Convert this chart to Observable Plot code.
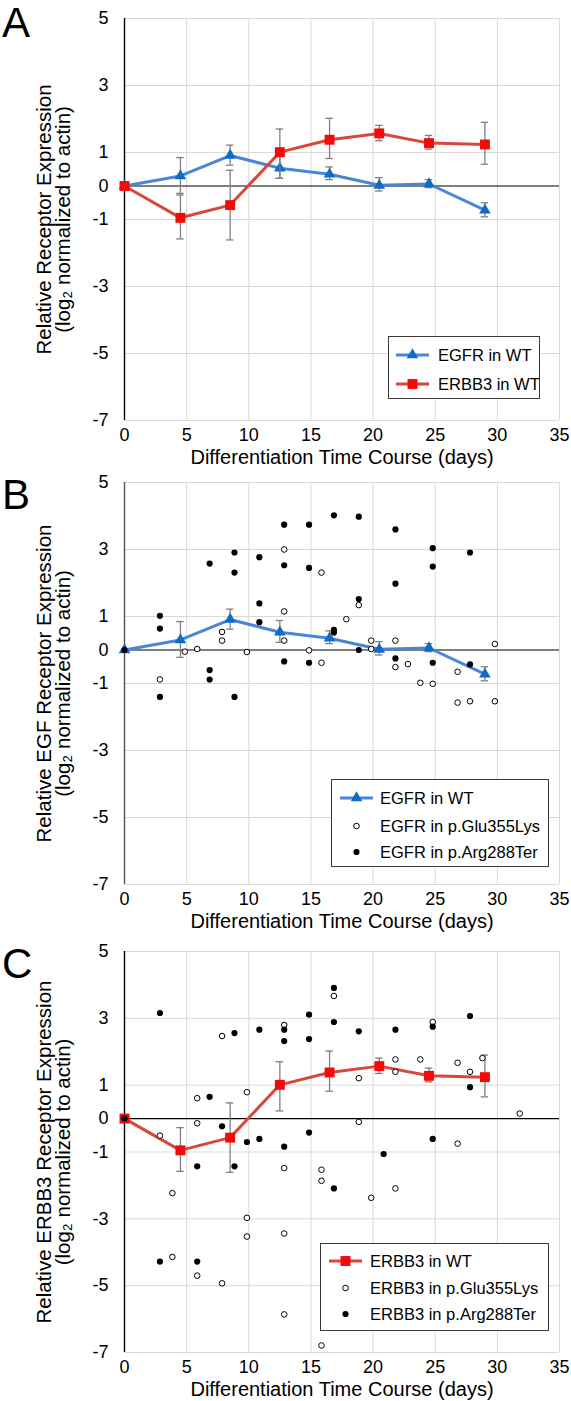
<!DOCTYPE html>
<html><head><meta charset="utf-8">
<script src="https://cdn.jsdelivr.net/npm/d3@7"></script>
<script src="https://cdn.jsdelivr.net/npm/@observablehq/plot@0.6"></script>
<style>
body{margin:0;background:#fff;font-family:"Liberation Sans",Arial,sans-serif;}
#root{position:relative;width:571px;height:1401px;overflow:hidden;background:#fff;}
.panel{position:absolute;left:0;width:571px;}
.legend{position:absolute;background:#fff;border:1px solid #3a3a3a;box-sizing:border-box;font-size:16.5px;color:#000;}
.legend .row{position:absolute;left:0;height:20px;line-height:20px;white-space:nowrap;}
.legend svg{position:absolute;top:3px;overflow:visible;}
.legend span{position:absolute;top:0;}
</style></head>
<body><div id="root"></div>
<script>
// ---------- data ----------
const xTicks = [0, 5, 10, 15, 20, 25, 30, 35];
const yTicks = [5, 3, 1, 0, -1, -3, -5, -7];
const yGrid = [5, 3, 1, -1, -3, -5, -7];
const days = [0, 4.5, 8.5, 12.5, 16.5, 20.5, 24.5, 29];

const egfrWT = [0, 0.30, 0.91, 0.53, 0.35, 0.02, 0.06, -0.72];
const egfrLo = [null, -0.22, 0.62, 0.23, 0.19, -0.15, -0.05, -0.92];
const egfrHi = [null, 0.85, 1.22, 0.88, 0.57, 0.25, 0.19, -0.50];

const erbb3WT = [0, -0.95, -0.57, 1.01, 1.38, 1.57, 1.28, 1.24];
const erbb3Lo = [null, -1.58, -1.61, 0.23, 0.82, 1.35, 1.10, 0.65];
const erbb3Hi = [null, -0.27, 0.47, 1.70, 2.02, 1.81, 1.51, 1.90];

// EGFR patients (panel B) [day, value]
const egfrGlu = [[2.85,-0.88],[4.85,-0.05],[5.85,0.03],[7.85,0.54],[7.85,0.28],[9.85,-0.06],
  [12.85,3.0],[12.85,1.15],[12.85,0.28],[14.85,-0.01],[15.85,2.31],[15.85,-0.38],
  [17.85,0.92],[18.85,1.34],[19.85,0.28],[19.85,0.03],[21.8,0.28],[21.8,-0.51],
  [22.8,-0.42],[23.8,-0.98],[24.8,-1.01],[26.8,-0.65],[26.8,-1.57],[27.8,-1.53],
  [29.8,0.18],[29.8,-1.53]];
const egfrArg = [[0,0],[2.85,1.02],[2.85,0.64],[2.85,-1.40],[6.85,2.58],[6.85,-0.60],[6.85,-0.88],
  [8.85,2.91],[8.85,2.31],[8.85,-1.40],[10.85,2.77],[10.85,1.39],[10.85,0.83],
  [12.85,3.74],[12.85,2.53],[12.85,-0.34],[14.85,3.74],[14.85,2.45],[14.85,-0.38],
  [16.85,4.02],[16.85,0.60],[16.85,0.52],[18.85,3.98],[18.85,1.52],[18.85,0.0],
  [21.8,3.60],[21.8,1.98],[21.8,-0.25],[24.8,3.04],[24.8,2.49],[24.8,-0.38],
  [27.8,2.91],[27.8,-0.43]];

// ERBB3 patients (panel C) [day, value]
const erbb3Glu = [[2.85,-0.51],[3.85,-2.23],[3.85,-4.14],[5.85,0.61],[5.85,-0.14],[5.85,-4.70],
  [7.85,2.47],[7.85,-4.93],[9.85,0.79],[9.85,-2.97],[9.85,-3.53],
  [12.85,2.80],[12.85,-1.48],[12.85,-3.44],[12.85,-5.86],
  [15.85,-1.53],[15.85,-1.86],[15.85,-6.79],[16.85,3.67],[18.85,1.21],[18.85,-0.10],
  [19.85,-2.37],[21.8,1.77],[21.8,1.40],[21.8,-2.09],[23.8,1.77],[24.8,2.89],
  [26.8,1.67],[26.8,-0.75],[27.8,1.40],[28.8,1.81],[31.8,0.15]];
const erbb3Arg = [[0,0],[2.85,3.16],[2.85,-4.28],[5.85,-1.43],[5.85,-4.28],[6.85,0.65],[7.85,-0.23],
  [8.85,2.56],[8.85,-1.43],[9.85,-0.70],[10.85,2.66],[10.85,-0.61],
  [12.85,2.66],[12.85,2.32],[12.85,-0.84],[14.85,3.11],[14.85,2.38],[14.85,-0.42],
  [16.85,3.91],[16.85,2.89],[16.85,-2.09],[18.85,2.61],[20.85,-1.06],[21.8,2.66],
  [24.8,2.75],[24.8,-0.61],[27.8,3.07],[27.8,0.94]];

const xTitle = "Differentiation Time Course (days)";
const yTitleA = ["Relative Receptor Expression", "(log\u2082 normalized to actin)"];
const yTitleB = ["Relative EGF Receptor Expression", "(log\u2082 normalized to actin)"];
const yTitleC = ["Relative ERBB3 Receptor Expression", "(log\u2082 normalized to actin)"];
const legA = ["EGFR in WT", "ERBB3 in WT"];
const legB = ["EGFR in WT", "EGFR in p.Glu355Lys", "EGFR in p.Arg288Ter"];
const legC = ["ERBB3 in WT", "ERBB3 in p.Glu355Lys", "ERBB3 in p.Arg288Ter"];

// ---------- styles ----------
const FONT = '"Liberation Sans", Arial, sans-serif';
const BLUE_LINE = "#4a86d6", BLUE_MARK = "#0f6cc4";
const RED_LINE = "#d9473b", RED_MARK = "#f50a0a";
const ERR = "#7f7f7f";
const TRI_R = 4.3, SQ_R = 5.6;
const TICK_FS = 18, TITLE_FS = 20.5;

function wtMarks(vals, lo, hi, lineColor, markColor, symbol, r) {
  const idx = d3.range(days.length);
  const e = idx.filter(i => lo[i] != null);
  return [
    Plot.line(idx, {x: i => days[i], y: i => vals[i], stroke: lineColor, strokeWidth: 3}),
    Plot.ruleX(e, {x: i => days[i], y1: i => lo[i], y2: i => hi[i], stroke: ERR, strokeWidth: 1.3}),
    Plot.ruleY(e, {y: i => lo[i], x1: i => days[i] - 0.3, x2: i => days[i] + 0.3, stroke: ERR, strokeWidth: 1.3}),
    Plot.ruleY(e, {y: i => hi[i], x1: i => days[i] - 0.3, x2: i => days[i] + 0.3, stroke: ERR, strokeWidth: 1.3}),
    Plot.dot(idx, {x: i => days[i], y: i => vals[i], symbol, r, fill: markColor, stroke: "none"})
  ];
}

function scatterMarks(open, filled) {
  return [
    Plot.dot(open, {x: d => d[0], y: d => d[1], r: 2.8, fill: "white", stroke: "black", strokeWidth: 1}),
    Plot.dot(filled, {x: d => d[0], y: d => d[1], r: 3.1, fill: "black", stroke: "none"})
  ];
}

function makePanel(cfg) {
  const marks = [
    Plot.gridX(xTicks, {stroke: "#d9d9d9", strokeOpacity: 1, strokeWidth: 1}),
    Plot.gridY(yGrid, {stroke: "#d9d9d9", strokeOpacity: 1, strokeWidth: 1}),
    Plot.ruleY([0], {stroke: "#000", strokeWidth: 1.2}),
    Plot.ruleX([0], {stroke: cfg.axisColor || "#000", strokeWidth: 1.4}),
    Plot.axisX(xTicks, {tickSize: 0, tickPadding: 8, fontSize: TICK_FS, label: null, tickFormat: d => String(d)}),
    Plot.axisY(yTicks, {tickSize: 0, tickPadding: 16, fontSize: TICK_FS, label: null, tickFormat: d => String(d)}),
    ...cfg.data,
    Plot.text([xTitle], {text: d => d, frameAnchor: "bottom", dy: 43, lineAnchor: "bottom", fontSize: 20, fill: "#000"}),
    Plot.text([cfg.ytitle.join("\n")], {text: d => d, frameAnchor: "left", rotate: -90, dx: 69.5 - 124,
      textAnchor: "middle", lineAnchor: "bottom", lineHeight: 0.95, fontSize: TITLE_FS, fill: "#000"}),
    Plot.text([cfg.letter], {text: d => d, frameAnchor: "top-left", dx: 1.5 - 124, dy: cfg.letterDy,
      textAnchor: "start", lineAnchor: "bottom", fontSize: 42, fill: "#000"})
  ];
  const svg = Plot.plot({
    width: 571, height: 467,
    marginLeft: 124, marginRight: 12, marginTop: cfg.mt, marginBottom: cfg.mb,
    x: {domain: [0, 35]},
    y: {domain: [-7, 5]},
    style: {fontFamily: FONT, fontSize: TICK_FS + "px", color: "#000", background: "transparent", overflow: "visible"},
    marks
  });
  const div = document.createElement("div");
  div.className = "panel";
  div.style.top = cfg.top + "px";
  div.appendChild(svg);
  // legend
  const L = cfg.legend;
  const lg = document.createElement("div");
  lg.className = "legend";
  Object.assign(lg.style, {left: L.left + "px", top: L.top + "px", width: L.w + "px", height: L.h + "px"});
  L.items.forEach((it, k) => {
    const row = document.createElement("div");
    row.className = "row";
    row.style.top = (L.rows[k] - 10) + "px";
    const s = d3.create("svg").attr("width", 34).attr("height", 14).style("left", L.sx + "px");
    if (it.line) s.append("line").attr("x1", 0).attr("x2", 33).attr("y1", 7).attr("y2", 7)
      .attr("stroke", it.line).attr("stroke-width", 3);
    if (it.sym) s.append("path").attr("transform", "translate(16.5,7)")
      .attr("d", d3.symbol(it.sym, it.size)()).attr("fill", it.fill).attr("stroke", it.stroke || "none")
      .attr("stroke-width", 1);
    row.appendChild(s.node());
    const t = document.createElement("span");
    t.style.left = L.tx + "px";
    t.textContent = it.label;
    row.appendChild(t);
    lg.appendChild(row);
  });
  div.appendChild(lg);
  document.getElementById("root").appendChild(div);
}

const triItem = (label) => ({label, line: BLUE_LINE, sym: d3.symbolTriangle, size: Math.PI * TRI_R * TRI_R, fill: BLUE_MARK});
const sqItem = (label) => ({label, line: RED_LINE, sym: d3.symbolSquare, size: Math.PI * SQ_R * SQ_R, fill: RED_MARK});
const openItem = (label) => ({label, sym: d3.symbolCircle, size: Math.PI * 2.8 * 2.8, fill: "white", stroke: "black"});
const fillItem = (label) => ({label, sym: d3.symbolCircle, size: Math.PI * 3.1 * 3.1, fill: "black"});

makePanel({
  top: 0, mt: 18, mb: 47, letter: "A", letterDy: 18.7, ytitle: yTitleA,
  data: [
    ...wtMarks(egfrWT, egfrLo, egfrHi, BLUE_LINE, BLUE_MARK, "triangle", TRI_R),
    ...wtMarks(erbb3WT, erbb3Lo, erbb3Hi, RED_LINE, RED_MARK, "square", SQ_R)
  ],
  legend: {left: 388, top: 336, w: 152, h: 63, rows: [18, 46.5], sx: 7, tx: 49,
    items: [triItem(legA[0]), sqItem(legA[1])]}
});

makePanel({
  top: 467, mt: 15, mb: 50, letter: "B", letterDy: 26.3, ytitle: yTitleB, axisColor: "#555",
  data: [
    ...wtMarks(egfrWT, egfrLo, egfrHi, BLUE_LINE, BLUE_MARK, "triangle", TRI_R),
    ...scatterMarks(egfrGlu, egfrArg)
  ],
  legend: {left: 331, top: 312, w: 218, h: 88, rows: [18.3, 45.7, 71.7], sx: 8, tx: 48,
    items: [triItem(legB[0]), openItem(legB[1]), fillItem(legB[2])]}
});

makePanel({
  top: 934, mt: 17, mb: 49, letter: "C", letterDy: 26, ytitle: yTitleC,
  data: [
    ...wtMarks(erbb3WT, erbb3Lo, erbb3Hi, RED_LINE, RED_MARK, "square", SQ_R),
    ...scatterMarks(erbb3Glu, erbb3Arg)
  ],
  legend: {left: 320, top: 309, w: 229, h: 88, rows: [17, 44.3, 70.3], sx: 8, tx: 49,
    items: [sqItem(legC[0]), openItem(legC[1]), fillItem(legC[2])]}
});
</script></body></html>
